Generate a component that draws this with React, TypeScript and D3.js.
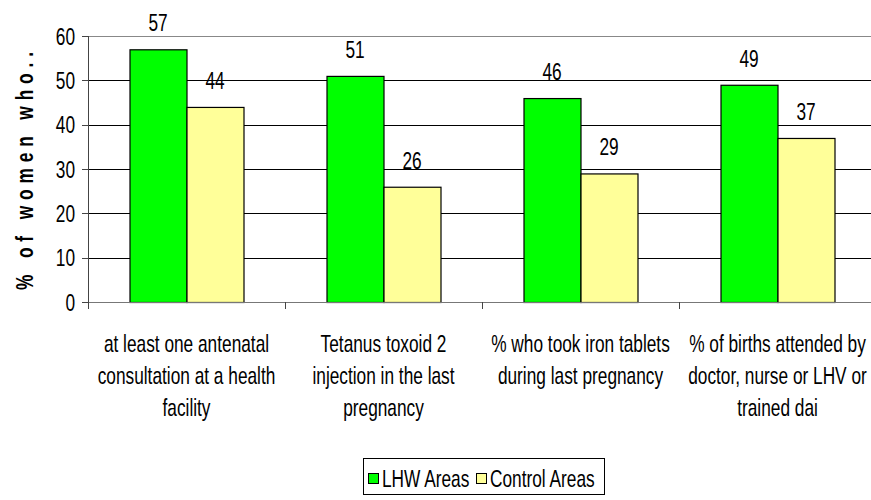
import React from "react";
import * as d3 from "d3";

const categories = [
  ["at least one antenatal", "consultation at a health", "facility"],
  ["Tetanus toxoid 2", "injection in the last", "pregnancy"],
  ["% who took iron tablets", "during last pregnancy"],
  ["% of births attended by", "doctor, nurse or LHV or", "trained dai"],
];
const seriesNames = ["LHW Areas", "Control Areas"];
const lhwValues = [57, 51, 46, 49];
const controlValues = [44, 26, 29, 37];
const yTicks = [0, 10, 20, 30, 40, 50, 60];
const colors = ["#00FF00", "#FFFF99"];

const FONT = "'Liberation Sans', Arial, sans-serif";
const SX = 0.72;
const FS = 24;

function NText({ x, y, anchor = "start", children, size = FS, weight = "normal" }: any) {
  return (
    <g transform={`translate(${x},${y}) scale(${SX},1)`}>
      <text x={0} y={0} textAnchor={anchor} fontSize={size} fontWeight={weight} fill="#000" fontFamily={FONT}>{children}</text>
    </g>
  );
}

export default function App() {
  const W = 871, H = 500;
  const left = 88, right = 876, top = 36, bottom = 302;
  const y = d3.scaleLinear().domain([0, 60]).range([bottom, top]);
  const x = d3.scaleBand<number>().domain(d3.range(categories.length)).range([left, right]).paddingInner(0).paddingOuter(0);
  const groupW = 114;
  const xs = d3.scaleBand<number>().domain([0, 1]).range([0, groupW]).padding(0);
  const series = [lhwValues, controlValues];

  return (
    <svg width={W} height={H} style={{ position: "absolute", left: 0, top: 0, background: "#fff" }} fontFamily={FONT}>
      {yTicks.filter(t => t > 0).map(t => (
        <line key={t} x1={left} x2={right} y1={Math.round(y(t)) + 0.5} y2={Math.round(y(t)) + 0.5}
          stroke={t === 60 ? "#888" : "#000"} strokeWidth={1} />
      ))}
      <line x1={left + 0.5} x2={left + 0.5} y1={top} y2={bottom} stroke="#444" />
      {yTicks.map(t => (
        <g key={t}>
          <line x1={left - 6} x2={left} y1={Math.round(y(t)) + 0.5} y2={Math.round(y(t)) + 0.5} stroke="#444" />
          <NText x={75} y={y(t) + 8.5} anchor="end">{t}</NText>
        </g>
      ))}
      {categories.map((_, i) => {
        const cx = (x(i) as number) + x.bandwidth() / 2;
        const gx = cx - groupW / 2;
        return series.map((vals, s) => {
          const bx = gx + (xs(s) as number);
          const by = y(vals[i]);
          return (
            <g key={`${i}-${s}`}>
              <rect x={bx + 0.5} y={by + 0.5} width={xs.bandwidth()} height={bottom - by}
                fill={colors[s]} stroke="#000" strokeWidth={1.2} />
              <NText x={bx + xs.bandwidth() / 2} y={by - 18} anchor="middle">{vals[i]}</NText>
            </g>
          );
        });
      })}
      <line x1={left} x2={right} y1={bottom + 0.5} y2={bottom + 0.5} stroke="#777" />
      {d3.range(categories.length + 1).map(i => {
        const xx = i < categories.length ? (x(i) as number) : right;
        return <line key={i} x1={Math.round(xx) + 0.5} x2={Math.round(xx) + 0.5} y1={bottom} y2={bottom + 7} stroke="#444" />;
      })}
      {categories.map((lines, i) => {
        const cx = (x(i) as number) + x.bandwidth() / 2;
        return lines.map((ln, j) => (
          <NText key={`${i}-${j}`} x={cx} y={352 + j * 32} anchor="middle">{ln}</NText>
        ));
      })}
      <g transform={`translate(33, 171) rotate(-90) scale(${SX},1)`}>
        <text x={0} y={0} textAnchor="middle" fontSize={24} fontWeight="bold" fill="#000"
          textLength={238 / SX} lengthAdjust="spacing" fontFamily={FONT}>% of women who..</text>
      </g>
      <rect x={363.5} y={458.5} width={241} height={36} fill="#fff" stroke="#000" />
      {seriesNames.map((name, s) => {
        const lx = s === 0 ? 368 : 476;
        return (
          <g key={name}>
            <rect x={lx + 0.5} y={473.5} width={10} height={10} fill={colors[s]} stroke="#000" />
            <NText x={lx + 14} y={487}>{name}</NText>
          </g>
        );
      })}
    </svg>
  );
}
